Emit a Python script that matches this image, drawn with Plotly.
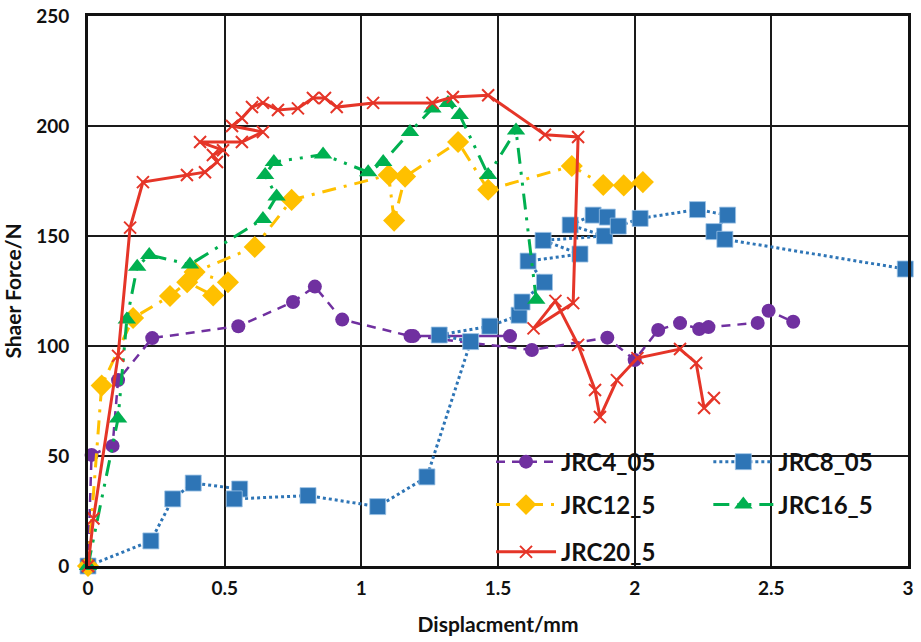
import plotly.graph_objects as go

# ---------------- data ----------------
jrc4_x = [0, 0.013, 0.09, 0.11, 0.235, 0.55, 0.75, 0.83, 0.93, 1.18, 1.544, 1.19, 1.624,
          1.90, 2.0, 2.086, 2.166, 2.236, 2.27, 2.45, 2.49, 2.58]
jrc4_y = [0, 50.5, 54.6, 84.5, 103.6, 109, 120, 127, 112, 104.5, 104.5, 104.5, 98.2,
          103.8, 93.6, 107.3, 110.4, 107.7, 108.6, 110.5, 116, 111]

jrc8_x = [0, 0.23, 0.31, 0.385, 0.555, 0.535, 0.805, 1.06, 1.24, 1.40, 1.285, 1.47, 1.577,
          1.588, 1.67, 1.61, 1.80, 1.665, 1.89, 1.764, 1.848, 1.90, 1.94, 2.02, 2.23, 2.34,
          2.29, 2.33, 2.99]
jrc8_y = [0, 11.4, 30.5, 37.7, 35, 30.5, 32, 27, 40.5, 102, 105, 109, 114,
          120, 129, 138.6, 141.8, 148, 150, 155, 159.5, 158.6, 154.5, 158, 162, 159.5,
          152, 148.5, 135]

jrc12_x = [0, 0.05, 0.165, 0.30, 0.363, 0.458, 0.512, 0.39, 0.61, 0.745, 1.10, 1.12, 1.16,
           1.354, 1.464, 1.77, 1.885, 1.96, 2.03]
jrc12_y = [0, 82, 112.7, 122.7, 129, 123, 129, 133.6, 145, 166.4, 177.7, 157, 177,
           192.7, 171, 181.8, 173.2, 173, 174.5]

jrc16_x = [0, 0.11, 0.142, 0.18, 0.224, 0.373, 0.64, 0.69, 0.648, 0.68, 0.86, 1.025, 1.08,
           1.178, 1.26, 1.317, 1.36, 1.464, 1.566, 1.64]
jrc16_y = [0, 67, 112, 136, 141.4, 137, 157.7, 168, 177.7, 183.6, 187, 179, 183.6,
           197.3, 208, 210.5, 205, 177.7, 198, 121]

jrc20_x = [0, 0.02, 0.11, 0.154, 0.201, 0.362, 0.428, 0.472, 0.457, 0.494, 0.41, 0.563,
           0.64, 0.527, 0.563, 0.6, 0.64, 0.695, 0.768, 0.823, 0.867, 0.91, 1.043, 1.26,
           1.335, 1.464, 1.672, 1.793, 1.775, 1.63, 1.71, 1.793, 1.855, 1.873, 1.935, 2.01,
           2.166, 2.225, 2.254, 2.29]
jrc20_y = [0, 21.6, 95.5, 153.8, 174.5, 177.7, 179, 183.6, 186.8, 189, 192.7, 192.7,
           197.3, 200, 203.6, 208.6, 210.5, 207.3, 208, 212.7, 212.7, 208.6, 210.5, 210.5,
           213.2, 214, 196, 195, 119.5, 108, 120.5, 100.5, 80, 67.7, 84.5, 94.5,
           98.6, 92.3, 71.8, 76.4]

names = ["JRC4_05", "JRC8_05", "JRC12_5", "JRC16_5", "JRC20_5"]
x_ticks = [0, 0.5, 1, 1.5, 2, 2.5, 3]
x_tick_text = ["0", "0.5", "1", "1.5", "2", "2.5", "3"]
y_ticks = [0, 50, 100, 150, 200, 250]

# ---------------- styles ----------------
FONT = "Lato"
purple = "#7030A0"
blue = "#2E75B6"
yellow = "#FFC000"
green = "#00B050"
red = "#E53528"

fig = go.Figure()

fig.add_trace(go.Scatter(
    x=jrc4_x, y=jrc4_y, name=names[0], mode="lines+markers", legend="legend",
    line=dict(color=purple, width=2.5, dash="9px,7px"),
    marker=dict(symbol="circle", size=14, color=purple), cliponaxis=False))

fig.add_trace(go.Scatter(
    x=jrc8_x, y=jrc8_y, name=names[1], mode="lines+markers", legend="legend2",
    line=dict(color=blue, width=3, dash="dot"),
    marker=dict(symbol="square", size=16, color=blue,
                line=dict(color="#9DC3E6", width=0.8)), cliponaxis=False))

fig.add_trace(go.Scatter(
    x=jrc12_x, y=jrc12_y, name=names[2], mode="lines+markers", legend="legend3",
    line=dict(color=yellow, width=3, dash="14px,8px,3px,8px"),
    marker=dict(symbol="diamond", size=17, color=yellow), cliponaxis=False))

fig.add_trace(go.Scatter(
    x=jrc16_x, y=jrc16_y, name=names[3], mode="lines+markers", legend="legend4",
    line=dict(color=green, width=3, dash="16px,8px,3px,8px,3px,8px"),
    marker=dict(symbol="triangle-up", size=16, color=green), cliponaxis=False))

fig.add_trace(go.Scatter(
    x=jrc20_x, y=jrc20_y, name=names[4], mode="lines+markers", legend="legend5",
    line=dict(color=red, width=3),
    marker=dict(symbol="x-thin", size=12, color=red, line=dict(color=red, width=2)),
    cliponaxis=False))

leg_common = dict(bgcolor="rgba(0,0,0,0)", borderwidth=0, xanchor="left",
                  yanchor="middle", itemwidth=60,
                  font=dict(family=FONT, size=24, color="#111", weight="bold"))

fig.update_layout(
    width=921, height=642,
    margin=dict(l=88, r=13, t=16, b=76, autoexpand=False),
    paper_bgcolor="white", plot_bgcolor="white",
    font=dict(family=FONT, color="#111"),
    legend=dict(x=0.4915, y=0.189, **leg_common),
    legend2=dict(x=0.7565, y=0.189, **leg_common),
    legend3=dict(x=0.4915, y=0.111, **leg_common),
    legend4=dict(x=0.7565, y=0.111, **leg_common),
    legend5=dict(x=0.4915, y=0.025, **leg_common),
    showlegend=True,
)

fig.update_xaxes(
    range=[0, 3], tickvals=x_ticks, ticktext=x_tick_text, automargin=False,
    showgrid=True, gridcolor="#1a1a1a", gridwidth=2,
    showline=True, linecolor="#111", linewidth=3, mirror=True,
    zeroline=False, ticks="", ticklabelstandoff=3,
    tickfont=dict(family=FONT, size=19, color="#111", weight="bold"),
    title=dict(text="Displacment/mm", standoff=20,
               font=dict(family=FONT, size=21, color="#111", weight="bold")))

fig.update_yaxes(
    range=[0, 250], tickvals=y_ticks, automargin=False,
    showgrid=True, gridcolor="#1a1a1a", gridwidth=2,
    showline=True, linecolor="#111", linewidth=3, mirror=True,
    zeroline=False, ticks="", ticklabelstandoff=12,
    tickfont=dict(family=FONT, size=19, color="#111", weight="bold"),
    title=dict(text="Shaer Force/N", standoff=10,
               font=dict(family=FONT, size=21, color="#111", weight="bold")))

fig.write_html("out.html")
